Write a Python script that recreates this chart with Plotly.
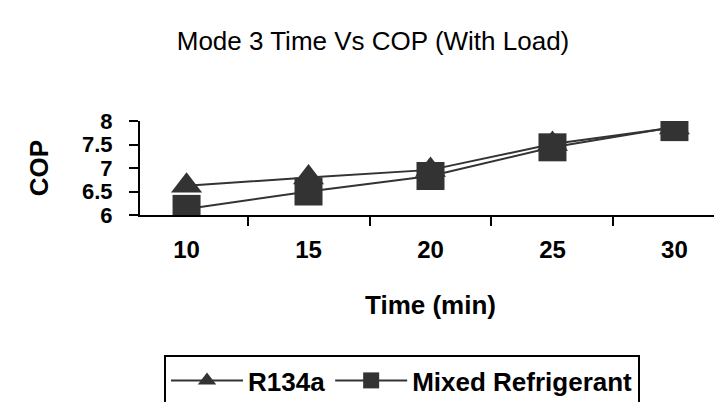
import plotly.graph_objects as go

times = ["10", "15", "20", "25", "30"]
r134a = [6.62, 6.80, 6.96, 7.51, 7.86]
mixed = [6.13, 6.50, 6.83, 7.44, 7.87]
y_ticks = [6, 6.5, 7, 7.5, 8]
y_tick_text = ["6", "6.5", "7", "7.5", "8"]

color = "#333333"
font_family = "Liberation Sans, Arial, sans-serif"

fig = go.Figure()
fig.add_trace(go.Scatter(
    x=times, y=r134a, name="R134a", mode="lines+markers",
    line=dict(color=color, width=2),
    marker=dict(symbol="triangle-up", size=27, color=color),
))
fig.add_trace(go.Scatter(
    x=times, y=mixed, name="Mixed Refrigerant", mode="lines+markers",
    line=dict(color=color, width=2),
    marker=dict(symbol="square", size=28, color=color),
))

fig.update_layout(
    width=722, height=402,
    margin=dict(l=132, r=9, t=113, b=195),
    paper_bgcolor="white", plot_bgcolor="white",
    font=dict(family=font_family, color="black"),
    title=dict(text="Mode 3 Time Vs COP (With Load)",
               font=dict(size=26, family=font_family, color="black"),
               x=365/722, xanchor="center", xref="container",
               y=1-33/402, yanchor="middle", yref="container"),
    showlegend=True,
    legend=dict(orientation="h", x=156/722, xref="container", xanchor="left",
                y=1-347/402, yref="container", yanchor="top",
                bordercolor="black", borderwidth=2, bgcolor="white",
                font=dict(size=26, family=font_family, color="black", weight="bold"),
                itemwidth=72),
)
fig.update_xaxes(
    type="category", tickson="boundaries", ticks="outside", ticklen=9, tickwidth=2,
    tickcolor="black", showline=True, linecolor="black", linewidth=2,
    showgrid=False, zeroline=False, ticklabelstandoff=12,
    tickfont=dict(size=24, family=font_family, color="black", weight="bold"),
    title=dict(text="Time (min)", standoff=34,
               font=dict(size=26, family=font_family, color="black", weight="bold")),
)
fig.update_yaxes(
    range=[6, 8], tickvals=y_ticks, ticktext=y_tick_text, ticks="outside", ticklen=9,
    tickwidth=2, tickcolor="black", showline=True, linecolor="black", linewidth=2,
    showgrid=False, zeroline=False, ticklabelstandoff=12,
    tickfont=dict(size=22, family=font_family, color="black", weight="bold"),
    title=dict(text="COP", standoff=26,
               font=dict(size=26, family=font_family, color="black", weight="bold")),
)

fig.write_html("out.html")
